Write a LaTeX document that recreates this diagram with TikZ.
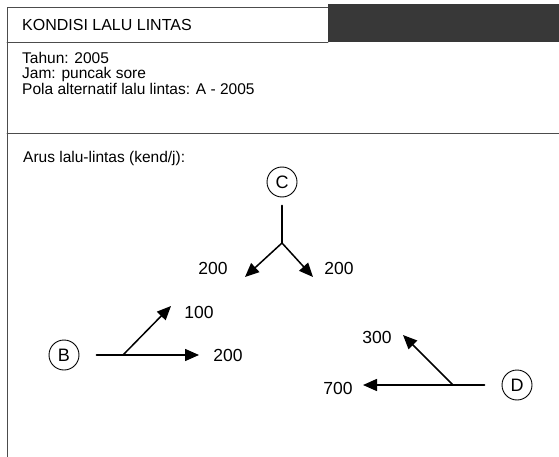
\documentclass[tikz,border=0pt]{standalone}
\usepackage{fontspec}
\setmainfont{Liberation Sans}
\usetikzlibrary{arrows.meta}

\tikzset{
  bingkai/.style={line width=0.8pt, black!70},
  teks/.style={anchor=west, inner sep=0pt, text height=11pt, text depth=3pt, font=\fontsize{15.5}{18}\selectfont},
  angka/.style={inner sep=0pt, font=\fontsize{17.5}{18}\selectfont},
  simpang/.style={draw, circle, minimum size=30pt, inner sep=0pt, line width=0.9pt, font=\fontsize{18}{18}\selectfont},
  arus/.style={-{Triangle[length=14pt,width=12pt]}, line width=1.5pt},
}

\begin{document}
\begin{tikzpicture}[x=1pt, y=-1pt, line cap=round, line join=round]
\useasboundingbox (0,0) rectangle (559,457);

% bingkai formulir
\draw[bingkai] (7,457) -- (7,7) -- (328,7);
\draw[bingkai] (7,42) -- (328,42);
\draw[bingkai] (7,133) -- (559,133);
\fill[black!78] (328,4) rectangle (559,42);

% judul dan keterangan
\node[teks, font=\fontsize{16}{18}\selectfont] (judul) at (22,27) {KONDISI LALU LINTAS};
\node[teks] (tahun) at (22,59.5) {Tahun: 2005};
\node[teks] (jam) at (22,75) {Jam: puncak sore};
\node[teks] (pola) at (22,90.5) {Pola alternatif lalu lintas: A - 2005};
\node[teks] (arus) at (23,158.5) {Arus lalu-lintas (kend/j):};

% pendekat
\node[simpang] (C) at (282,182) {C};
\node[simpang] (B) at (64,355) {B};
\node[simpang] (D) at (517,385) {D};

% titik cabang dan ujung panah
\coordinate (c0) at (282,243);
\coordinate (c1) at (245,277);
\coordinate (c2) at (313,277);
\coordinate (b0) at (123,355);
\coordinate (b1) at (171,306);
\coordinate (b2) at (199,355);
\coordinate (d0) at (453,385);
\coordinate (d1) at (403,335);
\coordinate (d2) at (363,385);

% arus dari C
\draw[line width=1.5pt, shorten <=8pt] (C) -- (c0);
\draw[arus] (c0) -- (c1);
\draw[arus] (c0) -- (c2);

% arus dari B
\draw[arus, shorten <=17pt] (B) -- (b2);
\draw[arus] (b0) -- (b1);

% arus dari D
\draw[arus, shorten <=17pt] (D) -- (d2);
\draw[arus] (d0) -- (d1);

% volume
\node[angka] (vc1) at (213,268) {200};
\node[angka] (vc2) at (339,268) {200};
\node[angka] (vb1) at (199,312) {100};
\node[angka] (vb2) at (228,355) {200};
\node[angka] (vd1) at (377,337) {300};
\node[angka] (vd2) at (338,388) {700};

\end{tikzpicture}
\end{document}
